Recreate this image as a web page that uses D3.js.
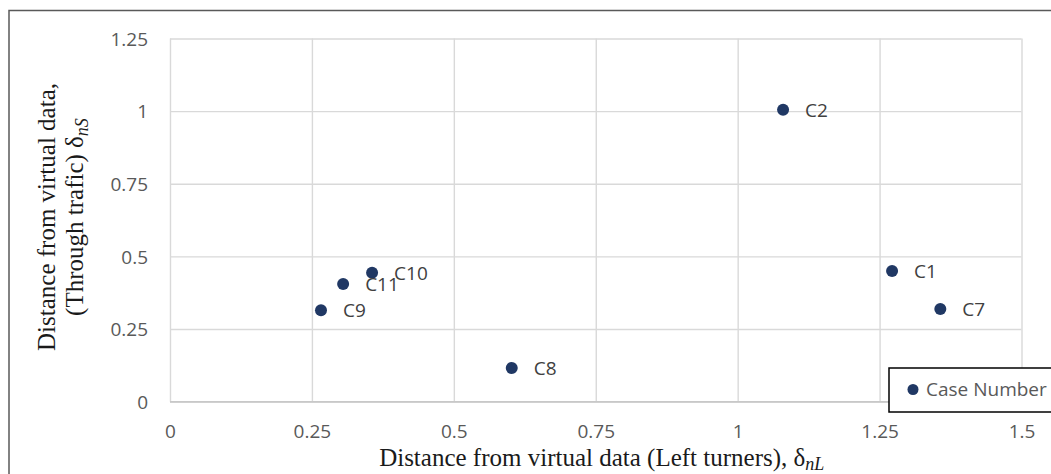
<!DOCTYPE html>
<html>
<head>
<meta charset="utf-8">
<script src="https://cdn.jsdelivr.net/npm/d3@7"></script>
<style>
  body { margin: 0; background: #fff; }
  svg { display: block; }
  .tick text { font-family: "Open Sans", sans-serif; font-size: 19px; fill: #595959; }
  .title { font-family: "Liberation Serif", "Times New Roman", serif; font-size: 25px; fill: #1a1a1a; }
</style>
</head>
<body>
<div id="chart"></div>
<script>
// case labels and their distances
const cases = ["C1", "C2", "C7", "C8", "C9", "C10", "C11"];
const leftTurners = [1.272, 1.080, 1.357, 0.602, 0.266, 0.356, 0.305];
const throughTraffic = [0.450, 1.005, 0.319, 0.116, 0.315, 0.444, 0.405];

const xTicks = [0, 0.25, 0.5, 0.75, 1, 1.25, 1.5];
const xTickLabels = ["0", "0.25", "0.5", "0.75", "1", "1.25", "1.5"];
const yTicks = [0, 0.25, 0.5, 0.75, 1, 1.25];
const yTickLabels = ["0", "0.25", "0.5", "0.75", "1", "1.25"];

const seriesName = "Case Number";

const W = 1051, H = 474;
const margin = {top: 38.5, right: 29.5, bottom: 72.3, left: 170};
const width = W - margin.left - margin.right;
const height = H - margin.top - margin.bottom;
const dotColor = "#203864";

const svg = d3.select("#chart").append("svg")
  .attr("width", W)
  .attr("height", H);

svg.append("rect").attr("width", W).attr("height", H).attr("fill", "#fff");

// outer chart frame (runs off right and bottom)
svg.append("rect")
  .attr("x", 9).attr("y", 10.5)
  .attr("width", W + 20).attr("height", H + 20)
  .attr("fill", "none")
  .attr("stroke", "#595959")
  .attr("stroke-width", 1.5);

const g = svg.append("g")
  .attr("transform", "translate(" + margin.left + "," + margin.top + ")");

const x = d3.scaleLinear().domain([0, 1.5]).range([0, width]);
const y = d3.scaleLinear().domain([0, 1.25]).range([height, 0]);

const xAxis = g.append("g")
  .attr("class", "axis axis--x")
  .attr("transform", "translate(0," + height + ")")
  .call(d3.axisBottom(x)
    .tickValues(xTicks)
    .tickSize(-height)
    .tickPadding(24)
    .tickFormat((d, i) => xTickLabels[i]));

const yAxis = g.append("g")
  .attr("class", "axis axis--y")
  .call(d3.axisLeft(y)
    .tickValues(yTicks)
    .tickSize(-width)
    .tickPadding(22)
    .tickFormat((d, i) => yTickLabels[i]));

g.selectAll(".axis .domain").remove();
g.selectAll(".axis .tick line")
  .attr("stroke", "#d9d9d9")
  .attr("stroke-width", 1.4);
xAxis.selectAll(".tick text").attr("dy", "0.35em").attr("y", 24 + 6);
yAxis.selectAll(".tick text").attr("dy", "0.35em");

// baseline
g.append("line")
  .attr("x1", 0).attr("x2", width)
  .attr("y1", y(0)).attr("y2", y(0))
  .attr("stroke", "#c8c8c8")
  .attr("stroke-width", 1.5);

const pts = cases.map((c, i) => ({id: c, lx: leftTurners[i], ts: throughTraffic[i]}));

g.selectAll(".dot")
  .data(pts).enter()
  .append("circle")
  .attr("class", "dot")
  .attr("cx", d => x(d.lx))
  .attr("cy", d => y(d.ts))
  .attr("r", 6)
  .attr("fill", dotColor);

g.selectAll(".lbl")
  .data(pts).enter()
  .append("text")
  .attr("class", "lbl")
  .attr("x", d => x(d.lx) + 22)
  .attr("y", d => y(d.ts))
  .attr("dy", "0.36em")
  .style("font-family", "'Open Sans', sans-serif")
  .style("font-size", "19px")
  .attr("fill", "#404040")
  .text(d => d.id);

// legend
const leg = svg.append("g").attr("transform", "translate(889,368)");
leg.append("rect")
  .attr("width", 200).attr("height", 44)
  .attr("fill", "#fff")
  .attr("stroke", "#000")
  .attr("stroke-width", 1.5);
leg.append("circle").attr("cx", 24).attr("cy", 21.5).attr("r", 5.5).attr("fill", dotColor);
leg.append("text")
  .attr("x", 37).attr("y", 21.5).attr("dy", "0.36em")
  .style("font-family", "'Open Sans', sans-serif")
  .style("font-size", "19px")
  .attr("fill", "#595959")
  .text(seriesName);

// x title
const xt = svg.append("text")
  .attr("class", "title")
  .attr("x", margin.left + width / 2 + 6)
  .attr("y", 466)
  .attr("text-anchor", "middle");
xt.append("tspan").text("Distance from virtual data (Left turners), δ");
xt.append("tspan").attr("font-style", "italic").attr("font-size", "18px").attr("dy", 4).text("nL");

// y title, two lines
const yt = svg.append("text")
  .attr("class", "title")
  .attr("transform", "translate(55,217) rotate(-90)")
  .attr("text-anchor", "middle");
yt.append("tspan").attr("x", 0).attr("y", 0).text("Distance from virtual data,");
const yt2 = svg.append("text")
  .attr("class", "title")
  .attr("transform", "translate(83,217) rotate(-90)")
  .attr("text-anchor", "middle");
yt2.append("tspan").text("(Through trafic) δ");
yt2.append("tspan").attr("font-style", "italic").attr("font-size", "18px").attr("dy", 5).text("nS");
</script>
</body>
</html>
